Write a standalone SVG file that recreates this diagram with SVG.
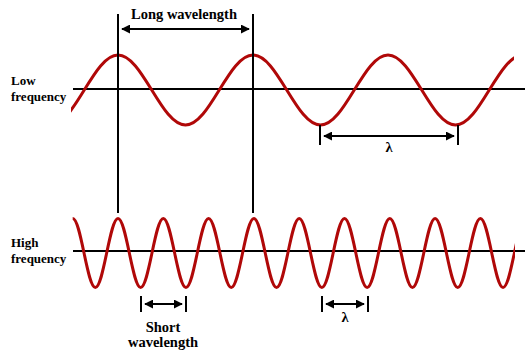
<svg xmlns="http://www.w3.org/2000/svg" width="525" height="355" viewBox="0 0 525 355">
<style>
.ln{stroke:#000;stroke-width:2;fill:none}
.ar{stroke:#000;stroke-width:2;fill:none;marker-start:url(#ah);marker-end:url(#ah)}
.wave{stroke:#b00808;stroke-width:3;fill:none}
.lbl{font-size:13px}
.cap{font-size:14.5px;text-anchor:middle}
</style>
<defs>
<marker id="ah" viewBox="0 0 10 10" refX="9" refY="5" markerWidth="4.5" markerHeight="4.5" orient="auto-start-reverse" markerUnits="strokeWidth">
<path d="M0,0 L10,5 L0,10 z" fill="#000"/>
</marker>
<clipPath id="clipLow"><rect x="71" y="0" width="443" height="200"/></clipPath>
<clipPath id="clipHigh"><rect x="71" y="200" width="444" height="120"/></clipPath>
</defs>
<rect width="525" height="355" fill="#fff"/>
<g font-family="'Liberation Serif', 'DejaVu Serif', serif" font-weight="bold" fill="#000">
<g id="low-wave">
<line class="ln" x1="73" y1="89" x2="525" y2="89"/>
<path class="wave" clip-path="url(#clipLow)" d="M-17 55 c24.5 0 43 70 67.5 70 c24.5 0 43 -70 67.5 -70 c24.5 0 43 70 67.5 70 c24.5 0 43 -70 67.5 -70 c24.5 0 43 70 67.5 70 c24.5 0 43 -70 67.5 -70 c24.5 0 43 70 67.5 70 c24.5 0 43 -70 67.5 -70"/>
<text class="lbl" x="11" y="85">Low</text>
<text class="lbl" x="11" y="101">frequency</text>
</g>
<g id="high-wave">
<line class="ln" x1="73" y1="251" x2="525" y2="251"/>
<path class="wave" clip-path="url(#clipHigh)" d="M72.7 218.5 c8.23 0 14.42 69 22.650 69 c8.23 0 14.42 -69 22.65 -69 c8.23 0 14.42 69 22.65 69 c8.23 0 14.42 -69 22.65 -69 c8.23 0 14.42 69 22.65 69 c8.23 0 14.42 -69 22.65 -69 c8.23 0 14.42 69 22.65 69 c8.23 0 14.42 -69 22.65 -69 c8.23 0 14.42 69 22.65 69 c8.23 0 14.42 -69 22.65 -69 c8.23 0 14.42 69 22.65 69 c8.23 0 14.42 -69 22.65 -69 c8.23 0 14.42 69 22.65 69 c8.23 0 14.42 -69 22.65 -69 c8.23 0 14.42 69 22.65 69 c8.23 0 14.42 -69 22.65 -69 c8.23 0 14.42 69 22.65 69 c8.23 0 14.42 -69 22.65 -69 c8.23 0 14.42 69 22.65 69 c8.23 0 14.42 -69 22.65 -69"/>
<text class="lbl" x="11" y="247">High</text>
<text class="lbl" x="11" y="263">frequency</text>
</g>
<g id="connectors">
<line class="ln" x1="118" y1="14" x2="118" y2="213"/>
<line class="ln" x1="253" y1="14" x2="253" y2="213"/>
<line class="ar" x1="122" y1="29" x2="249" y2="29"/>
<line class="ln" x1="320" y1="125" x2="320" y2="145"/>
<line class="ln" x1="458" y1="125" x2="458" y2="145"/>
<line class="ar" x1="324" y1="136" x2="454" y2="136"/>
<line class="ln" x1="141" y1="296" x2="141" y2="312"/>
<line class="ln" x1="186" y1="296" x2="186" y2="312"/>
<line class="ar" x1="145" y1="304" x2="182" y2="304"/>
<line class="ln" x1="322" y1="296" x2="322" y2="312"/>
<line class="ln" x1="368" y1="296" x2="368" y2="312"/>
<line class="ar" x1="326" y1="304" x2="364" y2="304"/>
</g>
<g id="labels">
<text class="cap" x="184" y="19">Long wavelength</text>
<text class="cap" x="389" y="152">λ</text>
<text class="cap" x="163" y="332">Short</text>
<text class="cap" x="163" y="347">wavelength</text>
<text class="cap" x="345" y="322">λ</text>
</g>
</g>
</svg>
